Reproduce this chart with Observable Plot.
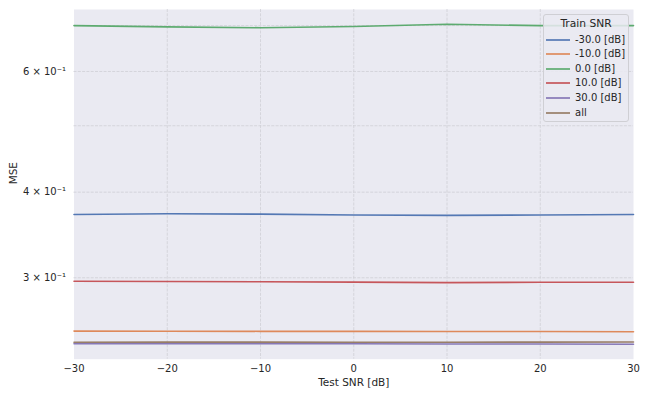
<!DOCTYPE html>
<html>
<head>
<meta charset="utf-8">
<script src="https://cdn.jsdelivr.net/npm/d3@7"></script>
<script src="https://cdn.jsdelivr.net/npm/@observablehq/plot@0.6"></script>
<style>
  html, body { margin: 0; padding: 0; background: #ffffff; }
  #wrap { position: relative; width: 649px; height: 403px; font-family: "DejaVu Sans", sans-serif; color: #262626; }
  #legend { position: absolute; left: 543px; top: 14px; width: 86px; height: 108px;
            border: 1px solid #cfcfd4; border-radius: 3px; background: rgba(234,234,242,0.85); box-sizing: border-box; }
  .lg-title { position: absolute; left: 0; width: 100%; text-align: center; font-size: 10.7px; line-height: 14px; }
  .lg-row { position: absolute; left: 0; height: 14px; font-size: 10px; line-height: 14px; white-space: nowrap; }
  .lg-swatch { position: absolute; left: 2px; top: 4px; width: 24px; height: 6px; }
  .lg-label { position: absolute; left: 31px; top: 0; }
</style>
</head>
<body>
<div id="wrap"></div>
<script>
// ---- data ----
const testSNR = [-30, -20, -10, 0, 10, 20, 30];
const trainSNR = ["-30.0 [dB]", "-10.0 [dB]", "0.0 [dB]", "10.0 [dB]", "30.0 [dB]", "all"];
const seriesColors = ["#4C72B0", "#DD8452", "#55A868", "#C44E52", "#8172B3", "#937860"];
const mseTrainM30 = [0.3710, 0.3720, 0.3715, 0.3705, 0.3700, 0.3705, 0.3710];
const mseTrainM10 = [0.2508, 0.2507, 0.2506, 0.2506, 0.2505, 0.2505, 0.2502];
const mseTrain0   = [0.700, 0.697, 0.695, 0.698, 0.703, 0.700, 0.700];
const mseTrain10  = [0.2965, 0.2962, 0.2960, 0.2957, 0.2952, 0.2955, 0.2955];
const mseTrain30  = [0.2404, 0.2405, 0.2404, 0.2403, 0.2402, 0.2401, 0.2400];
const mseAll      = [0.2416, 0.2417, 0.2417, 0.2416, 0.2416, 0.2417, 0.2418];
const xTicks = [-30, -20, -10, 0, 10, 20, 30];
const xGrid = [-20, -10, 0, 10, 20];
const yTicks = [0.3, 0.4, 0.6];
const yTickLabels = ["3 × 10⁻¹", "4 × 10⁻¹", "6 × 10⁻¹"];
const yGrid = [0.3, 0.4, 0.5, 0.6, 0.7];
const yDomain = [0.2282, 0.7389];
const xLabel = "Test SNR [dB]";
const yLabel = "MSE";
const legendTitle = "Train SNR";

const seriesValues = [mseTrainM30, mseTrainM10, mseTrain0, mseTrain10, mseTrain30, mseAll];
const rows = [];
trainSNR.forEach((name, i) => {
  testSNR.forEach((x, j) => rows.push({series: name, snr: x, mse: seriesValues[i][j]}));
});

const chart = Plot.plot({
  width: 649,
  height: 403,
  marginLeft: 73.5,
  marginRight: 16,
  marginTop: 9,
  marginBottom: 44.3,
  style: {fontFamily: "DejaVu Sans, sans-serif", fontSize: "10px", color: "#262626", background: "transparent"},
  x: {domain: [-30, 30], label: null},
  y: {type: "log", domain: yDomain, label: null},
  color: {domain: trainSNR, range: seriesColors},
  marks: [
    Plot.frame({fill: "#EAEAF2", stroke: null}),
    Plot.gridX(xGrid, {stroke: "#cfcfd6", strokeOpacity: 1, strokeWidth: 0.8, strokeDasharray: "3,1.3"}),
    Plot.gridY(yGrid, {stroke: "#cfcfd6", strokeOpacity: 1, strokeWidth: 0.8, strokeDasharray: "3,1.3"}),
    Plot.line(rows, {x: "snr", y: "mse", z: "series", stroke: "series", strokeWidth: 1.6, strokeOpacity: 0.95}),
    Plot.axisX(xTicks, {tickSize: 0, tickPadding: 6, label: null, fill: "#262626"}),
    Plot.axisY(yTicks, {tickSize: 0, tickPadding: 8, label: null, fill: "#262626",
      tickFormat: (d) => yTickLabels[yTicks.indexOf(d)]}),
    Plot.text([xLabel], {frameAnchor: "bottom", dy: 27, fontSize: 10.5, fill: "#262626"}),
    Plot.text([yLabel], {frameAnchor: "left", dx: -60.5, rotate: -90, fontSize: 10.5, fill: "#262626"})
  ]
});

const wrap = document.getElementById("wrap");
wrap.appendChild(chart);

// legend overlay
const lg = document.createElement("div");
lg.id = "legend";
const t = document.createElement("div");
t.className = "lg-title";
t.style.top = "1.5px";
t.textContent = legendTitle;
lg.appendChild(t);
const svgNS = "http://www.w3.org/2000/svg";
trainSNR.forEach((name, i) => {
  const r = document.createElement("div");
  r.className = "lg-row";
  r.style.top = Math.round(17.5 + i * 14.6) + "px";
  const sw = document.createElementNS(svgNS, "svg");
  sw.setAttribute("class", "lg-swatch");
  sw.setAttribute("width", "24");
  sw.setAttribute("height", "6");
  const ln = document.createElementNS(svgNS, "line");
  ln.setAttribute("x1", "0"); ln.setAttribute("x2", "24");
  ln.setAttribute("y1", "3"); ln.setAttribute("y2", "3");
  ln.setAttribute("stroke", seriesColors[i]);
  ln.setAttribute("stroke-width", "1.6");
  sw.appendChild(ln);
  const lb = document.createElement("span");
  lb.className = "lg-label";
  lb.textContent = name;
  r.appendChild(sw);
  r.appendChild(lb);
  lg.appendChild(r);
});
wrap.appendChild(lg);
</script>
</body>
</html>
